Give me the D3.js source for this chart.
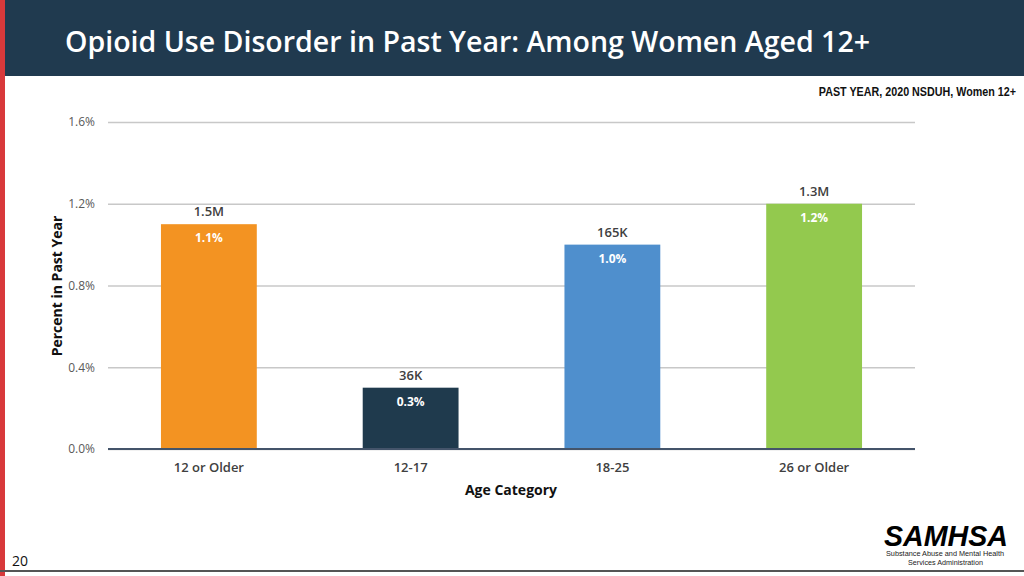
<!DOCTYPE html>
<html><head><meta charset="utf-8">
<script src="https://cdn.jsdelivr.net/npm/d3@7"></script>
<style>body{margin:0;background:#fff}svg{display:block}</style>
</head><body>
<svg id="c" width="1024" height="576"></svg>
<script>
const categories = ["12 or Older", "12-17", "18-25", "26 or Older"];
const values = [1.1, 0.3, 1.0, 1.2];
const valueLabels = ["1.1%", "0.3%", "1.0%", "1.2%"];
const countLabels = ["1.5M", "36K", "165K", "1.3M"];
const colors = ["#f39322", "#1f3a4d", "#4f8fcd", "#93c94e"];
const yTicks = [0, 0.4, 0.8, 1.2, 1.6];

const svg = d3.select("#c");
const font = "'Open Sans', 'Noto Sans', sans-serif";

// header
svg.append("rect").attr("x",0).attr("y",0).attr("width",1024).attr("height",76).attr("fill","#203a4f");
svg.append("rect").attr("x",0).attr("y",0).attr("width",5).attr("height",576).attr("fill","#d8393b");
svg.append("text").attr("x",65).attr("y",52).attr("fill","#fff")
  .attr("textLength",805).attr("lengthAdjust","spacingAndGlyphs")
  .style("font-family",font).style("font-size","28px").style("font-weight","600")
  .text("Opioid Use Disorder in Past Year: Among Women Aged 12+");
svg.append("g").attr("transform","translate(1016,96) scale(0.86,1)")
  .append("text").attr("x",0).attr("y",0).attr("text-anchor","end").attr("fill","#111")
  .style("font-family","'Liberation Sans',Arial,sans-serif").style("font-weight","bold").style("font-size","12.5px")
  .text("PAST YEAR, 2020 NSDUH, Women 12+");

const x = d3.scaleBand().domain(categories).range([108, 915]).paddingInner(0.525).paddingOuter(0.2625);
const y = d3.scaleLinear().domain([0, 1.6]).range([449, 122]);

// grid + y axis
const yAxis = svg.append("g").attr("transform","translate(108,0)")
  .call(d3.axisLeft(y).tickValues(yTicks).tickSize(-807).tickFormat(d => d3.format(".1f")(d) + "%"));
yAxis.select(".domain").remove();
yAxis.selectAll(".tick line").attr("stroke","#c8c8c8").attr("stroke-width",1.3);
yAxis.selectAll(".tick text").attr("x",-13).attr("fill","#595959")
  .style("font-family",font).style("font-size","12px");

// bars
svg.selectAll("rect.bar").data(categories).join("rect").attr("class","bar")
  .attr("x", d => x(d)).attr("width", x.bandwidth())
  .attr("y", (d,i) => y(values[i])).attr("height", (d,i) => y(0) - y(values[i]))
  .attr("fill", (d,i) => colors[i]);

// baseline
svg.append("line").attr("x1",108).attr("x2",915).attr("y1",y(0)).attr("y2",y(0))
  .attr("stroke","#44546a").attr("stroke-width",2);

// count labels
svg.selectAll("text.cnt").data(categories).join("text").attr("class","cnt")
  .attr("x", d => x(d) + x.bandwidth()/2).attr("y", (d,i) => y(values[i]) - 8)
  .attr("text-anchor","middle").attr("fill","#404040")
  .style("font-family",font).style("font-size","13px").style("font-weight","600")
  .text((d,i) => countLabels[i]);
// value labels
svg.selectAll("text.val").data(categories).join("text").attr("class","val")
  .attr("x", d => x(d) + x.bandwidth()/2).attr("y", (d,i) => y(values[i]) + 18)
  .attr("text-anchor","middle").attr("fill","#fff")
  .style("font-family",font).style("font-size","12px").style("font-weight","bold")
  .text((d,i) => valueLabels[i]);

// x axis labels
const xAxis = svg.append("g").attr("transform","translate(0,449)")
  .call(d3.axisBottom(x).tickSize(0).tickPadding(14));
xAxis.select(".domain").remove();
xAxis.selectAll(".tick text").attr("fill","#404040")
  .style("font-family",font).style("font-size","13px").style("font-weight","600");

svg.append("text").attr("x",511).attr("y",495).attr("text-anchor","middle").attr("fill","#111")
  .style("font-family",font).style("font-size","14px").style("font-weight","bold").text("Age Category");
svg.append("text").attr("transform","translate(62,286) rotate(-90)").attr("text-anchor","middle").attr("fill","#111")
  .style("font-family",font).style("font-size","14px").style("font-weight","bold").text("Percent in Past Year");

// footer
svg.append("text").attr("x",12).attr("y",566).attr("fill","#111")
  .style("font-family",font).style("font-size","14px").text("20");
svg.append("line").attr("x1",0).attr("x2",1024).attr("y1",571).attr("y2",571).attr("stroke","#555").attr("stroke-width",2);

svg.append("text").attr("x",884).attr("y",546).attr("fill","#000")
  .attr("textLength",124).attr("lengthAdjust","spacingAndGlyphs")
  .style("font-family","'Liberation Sans',Arial,sans-serif").style("font-size","29px")
  .style("font-weight","bold").style("font-style","italic").text("SAMHSA");
svg.append("text").attr("x",886).attr("y",556).attr("fill","#222")
  .attr("textLength",118).attr("lengthAdjust","spacingAndGlyphs")
  .style("font-family","'Liberation Sans',sans-serif").style("font-size","7px").text("Substance Abuse and Mental Health");
svg.append("text").attr("x",908).attr("y",565).attr("fill","#222")
  .attr("textLength",75).attr("lengthAdjust","spacingAndGlyphs")
  .style("font-family","'Liberation Sans',sans-serif").style("font-size","7px").text("Services Administration");
</script>
</body></html>
